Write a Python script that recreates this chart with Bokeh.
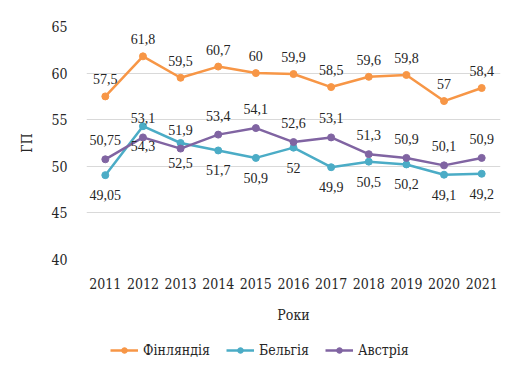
from bokeh.plotting import figure
from bokeh.layouts import column
from bokeh.models import (ColumnDataSource, LabelSet, Legend, LegendItem,
                          FactorRange, SingleIntervalTicker, Range1d)
from bokeh.embed import file_html
from bokeh.resources import INLINE

years = ["2011", "2012", "2013", "2014", "2015", "2016", "2017", "2018", "2019", "2020", "2021"]
finland = [57.5, 61.8, 59.5, 60.7, 60.0, 59.9, 58.5, 59.6, 59.8, 57.0, 58.4]
belgium = [49.05, 54.3, 52.5, 51.7, 50.9, 52.0, 49.9, 50.5, 50.2, 49.1, 49.2]
austria = [50.75, 53.1, 51.9, 53.4, 54.1, 52.6, 53.1, 51.3, 50.9, 50.1, 50.9]
names = ["Фінляндія", "Бельгія", "Австрія"]
colors = ["#F79646", "#4BACC6", "#8064A2"]
label_offsets = [17, -20, 19]

FONT = "DejaVu Serif Condensed"
FS = "14px"
TXT = "#262626"

def fmt(v):
    return f"{v:g}".replace(".", ",")

p = figure(width=507, height=328, x_range=FactorRange(*years), y_range=(40, 65),
           output_backend="svg", toolbar_location=None,
           min_border_left=86, min_border_right=7, min_border_top=26, min_border_bottom=69)
p.outline_line_color = None
p.background_fill_color = "white"
p.border_fill_color = "white"

p.xgrid.grid_line_color = None
p.ygrid.grid_line_color = "#D9D9D9"
p.ygrid.grid_line_width = 1
p.yaxis.ticker = SingleIntervalTicker(interval=5)

for ax in (p.xaxis[0], p.yaxis[0]):
    ax.axis_line_color = None
    ax.major_tick_line_color = None
    ax.minor_tick_line_color = None
    ax.major_label_text_font = FONT
    ax.major_label_text_font_size = FS
    ax.major_label_text_color = TXT
    ax.axis_label_text_font = FONT
    ax.axis_label_text_font_size = FS
    ax.axis_label_text_color = TXT
    ax.axis_label_text_font_style = "normal"

p.xaxis.axis_label = "Роки"
p.yaxis.axis_label = "ГП"
p.xaxis.major_label_standoff = 12
p.xaxis.axis_label_standoff = 15
p.yaxis.major_label_standoff = 13
p.yaxis.axis_label_standoff = 13

q = figure(width=507, height=40, x_range=FactorRange(*years), y_range=Range1d(100, 101),
           output_backend="svg", toolbar_location=None,
           min_border_left=0, min_border_right=0, min_border_top=0, min_border_bottom=0)
q.axis.visible = False
q.grid.visible = False
q.outline_line_color = None
q.border_fill_color = "white"
q.background_fill_color = "white"

items = []
for name, vals, col, off in zip(names, [finland, belgium, austria], colors, label_offsets):
    src = ColumnDataSource(dict(x=years, y=vals, t=[fmt(v) for v in vals]))
    p.line("x", "y", source=src, line_color=col, line_width=2.5)
    p.scatter("x", "y", source=src, size=7, fill_color=col, line_color=col)
    labels = LabelSet(x="x", y="y", text="t", source=src, y_offset=off,
                      text_align="center", text_baseline="middle",
                      text_font=FONT, text_font_size=FS, text_color=TXT)
    p.add_layout(labels)
    ln = q.line("x", "y", source=src, line_color=col, line_width=2.5)
    sc = q.scatter("x", "y", source=src, size=7, fill_color=col, line_color=col)
    items.append(LegendItem(label=name, renderers=[ln, sc]))

legend = Legend(items=items, orientation="horizontal", location=(24, 10),
                label_text_font=FONT, label_text_font_size=FS, label_text_color=TXT,
                glyph_width=28, glyph_height=14, label_standoff=5, spacing=16,
                border_line_color=None, background_fill_alpha=0, margin=0, padding=4)
q.add_layout(legend)

layout = column(p, q, spacing=0)
open("out.html", "w").write(file_html(layout, INLINE))
